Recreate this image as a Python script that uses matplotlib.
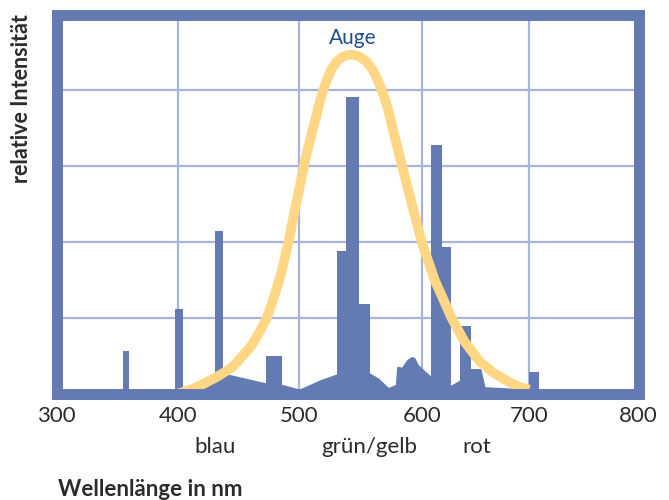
import numpy as np
import matplotlib
matplotlib.use("Agg")
import matplotlib.pyplot as plt
from matplotlib.patches import Rectangle

# --- data ------------------------------------------------------------------
# tick labels of the wavelength axis (nm)
x_ticks = [300, 400, 500, 600, 700, 800]
y_grid = [1, 2, 3, 4]

# spectral lines of the lamp: left edge, right edge (nm), height (rel.)
line_left = [354.4, 397.5, 430.3, 472.5, 530.6, 538.2, 548.8, 608.4, 618.9, 635.6, 645.8, 700.0]
line_right = [359.5, 403.6, 436.9, 485.7, 538.2, 548.8, 557.8, 618.9, 627.0, 645.8, 655.1, 708.9]
line_height = [0.56, 1.12, 2.15, 0.50, 1.88, 3.92, 1.18, 3.28, 1.94, 0.89, 0.32, 0.28]

# broad continuum underneath the lines
cont_nm = [300, 414, 422, 430, 437, 451, 472.5, 485.7, 500, 516.8, 530.6, 557.8, 565,
           572.8, 578.5, 579.6, 583.7, 588, 591.8, 594.5, 597.2, 607.7, 618.9, 627,
           635.6, 645.8, 655.1, 658.8, 700, 720]
cont_int = [0, 0.02, 0.12, 0.22, 0.27, 0.22, 0.14, 0.12, 0.06, 0.18, 0.26, 0.27, 0.20,
            0.08, 0.12, 0.36, 0.35, 0.45, 0.49, 0.47, 0.38, 0.24, 0.18, 0.11,
            0.18, 0.32, 0.32, 0.09, 0.06, 0.0]

# eye sensitivity curve ("Auge")
eye_nm = [400, 410, 420, 432, 445, 460, 466, 473, 478, 485, 491, 498, 505, 512, 518,
          522, 526, 530, 535, 540, 545, 550, 555, 560, 564, 568, 572, 577, 584, 592,
          600, 612, 628, 640, 654, 667, 679, 690, 700]
eye_int = [0.0, 0.05, 0.12, 0.22, 0.35, 0.62, 0.78, 0.99, 1.22, 1.58, 2.0, 2.55, 3.1,
           3.55, 3.92, 4.12, 4.27, 4.37, 4.44, 4.47, 4.47, 4.44, 4.38, 4.27, 4.14,
           3.98, 3.78, 3.45, 3.0, 2.5, 2.0, 1.5, 0.99, 0.68, 0.42, 0.27, 0.17, 0.09,
           0.05]

color_names = ["blau", "grün/gelb", "rot"]
color_centers = [430, 557, 651]

# --- style --------------------------------------------------------------------
BLUE = "#637BB2"
GRID = "#A8B5DA"
YELLOW = "#FFD784"
TEXT = "#2b2b2b"
plt.rcParams["font.family"] = ["Lato", "DejaVu Sans"]

# the drawing's wavelength axis is not evenly spaced: calibrate it piecewise
axis_nm = np.array([300, 400, 500, 600, 700, 800], dtype=float)
axis_px = np.array([56.5, 178.3, 299.3, 421.7, 529.3, 638.5])


def forward(x):
    return np.interp(x, axis_nm, axis_px)


def inverse(p):
    return np.interp(p, axis_px, axis_nm)


fig = plt.figure(figsize=(6.69, 5.0), dpi=100)
ax = fig.add_axes([56.5 / 669, 106.5 / 500, 582 / 669, 378.8 / 500])
ax.set_xscale("function", functions=(forward, inverse))
ax.set_xlim(300, 800)
ax.set_ylim(0, 5)

ax.set_xticks(x_ticks)
ax.set_xticklabels([str(t) for t in x_ticks])
ax.set_yticks(y_grid)
ax.set_yticklabels([])
ax.tick_params(axis="both", length=0)
ax.tick_params(axis="x", pad=9, labelsize=16, labelcolor=TEXT)
ax.grid(True, color=GRID, linewidth=1.6, zorder=0)
ax.set_axisbelow(True)
for sp in ax.spines.values():
    sp.set_visible(False)

# spectrum
ax.fill_between(cont_nm, 0, cont_int, color=BLUE, linewidth=0, zorder=2)
widths = [r - l for l, r in zip(line_left, line_right)]
ax.bar(line_left, line_height, width=widths, align="edge", color=BLUE,
       linewidth=0, zorder=2)

# eye curve
ax.plot(eye_nm, eye_int, color=YELLOW, linewidth=7, solid_capstyle="butt",
        solid_joinstyle="round", zorder=4)
ax.text(544, 4.69, "Auge", ha="center", va="center", fontsize=15,
        color="#1F4F91", zorder=6)

# thick frame
ax.add_patch(Rectangle((0, 0), 1, 1, transform=ax.transAxes, fill=False,
                       edgecolor=BLUE, linewidth=7.9, joinstyle="miter",
                       clip_on=False, zorder=5))

# colour names under the axis
for name, c in zip(color_names, color_centers):
    ax.text(c, -0.7, name, ha="center", va="center", fontsize=16, color=TEXT,
            clip_on=False)

fig.text(58 / 669, 1 - 489 / 500, "Wellenlänge in nm", ha="left", va="center",
         fontsize=16, fontweight="bold", color=TEXT)
fig.text(22 / 669, 1 - 99 / 500, "relative Intensität", ha="center", va="center",
         rotation=90, fontsize=15.5, fontweight="bold", color=TEXT)

fig.savefig("out.png", dpi=100, facecolor="white")
